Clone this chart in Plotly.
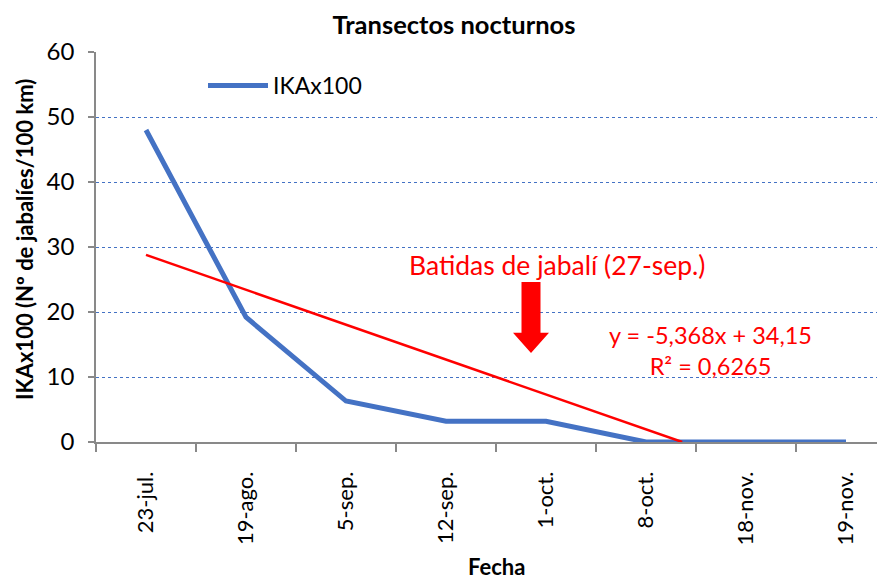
import plotly.graph_objects as go

# ---- data ----
fechas = ["23-jul.", "19-ago.", "5-sep.", "12-sep.", "1-oct.", "8-oct.", "18-nov.", "19-nov."]
ika = [48, 19.2, 6.3, 3.2, 3.2, 0, 0, 0]
trend_slope = -5.368
trend_intercept = 34.15
trend_r2 = 0.6265
y_ticks = [0, 10, 20, 30, 40, 50, 60]

FONT = "Lato"
BLUE = "#4472C4"
RED = "#FF0000"
GREY = "#898989"

idx = list(range(len(fechas)))

# Excel trendline: x is 1-based category number; stop where it meets y=0 (axis minimum)
x_end_1based = -trend_intercept / trend_slope
trend_x = [0, x_end_1based - 1]
trend_y = [trend_slope * (x + 1) + trend_intercept for x in trend_x]

# page body has an 8px margin -> figure drawn at (8,8)
W, H = 877, 572
PL, PT, PW, PH = 88, 44, 789, 390


def px(xa):  # absolute page x -> paper
    return (xa - 8 - PL) / PW


def py(ya):  # absolute page y -> paper
    return (PT + PH - (ya - 8)) / PH


fig = go.Figure()
fig.add_trace(go.Scatter(
    x=idx, y=ika, mode="lines", name="IKAx100",
    line=dict(color=BLUE, width=5), showlegend=True,
))
fig.add_trace(go.Scatter(
    x=trend_x, y=trend_y, mode="lines", name="Lineal (IKAx100)",
    line=dict(color=RED, width=2.5), showlegend=False,
))

fig.update_layout(
    width=W, height=H,
    margin=dict(l=PL, r=W - PL - PW, t=PT, b=H - PT - PH, autoexpand=False),
    paper_bgcolor="white", plot_bgcolor="white",
    font=dict(family=FONT, size=24, color="black"),
    title=dict(text="<b>Transectos nocturnos</b>", x=(454 - 8) / W, xanchor="center",
               xref="container", yref="container", y=1 - (25 - 8) / H, yanchor="middle",
               font=dict(family=FONT, size=25.5, color="black")),
    legend=dict(x=px(203), y=py(64), xanchor="left", yanchor="top",
                bgcolor="rgba(0,0,0,0)", font=dict(size=23), itemwidth=60),
    xaxis=dict(
        range=[-0.5, 7.39], tickmode="array", tickvals=idx, ticktext=fechas,
        tickangle=-90, ticks="", showgrid=False, zeroline=False,
        showline=True, linecolor=GREY, linewidth=1.5,
        tickfont=dict(size=22), ticklabelstandoff=19,
        minor=dict(tickvals=[i - 0.5 for i in range(len(fechas) + 1)],
                   ticks="outside", ticklen=8, tickcolor=GREY, tickwidth=1.5,
                   showgrid=False),
    ),
    yaxis=dict(
        range=[0, 60], tickmode="array", tickvals=y_ticks,
        ticks="outside", ticklen=6, tickcolor=GREY, tickwidth=1.5,
        showline=True, linecolor=GREY, linewidth=1.5, zeroline=False,
        showgrid=True, gridcolor=BLUE, griddash="dot", gridwidth=1,
        tickfont=dict(size=24), ticklabelstandoff=9,
    ),
)

# axis titles
fig.add_annotation(text="<b>IKAx100 (Nº de jabalíes/100 km)</b>", xref="paper", yref="paper",
                   x=px(25), y=py(240), textangle=-90, showarrow=False,
                   font=dict(size=22), xanchor="center", yanchor="middle")
fig.add_annotation(text="<b>Fecha</b>", xref="paper", yref="paper",
                   x=px(496), y=py(566), showarrow=False,
                   font=dict(size=22), xanchor="center", yanchor="middle")

# event annotation
fig.add_annotation(text="Batidas de jabalí (27-sep.)", xref="paper", yref="paper",
                   x=px(557), y=py(265), showarrow=False,
                   font=dict(size=26.5, color=RED), xanchor="center", yanchor="middle")

# block arrow (decoration)
ax_c = 3.85
shaft_hw, head_hw = 0.095, 0.18
y_top, y_neck, y_tip = 24.6, 16.8, 13.7
path = (f"M {ax_c - shaft_hw},{y_top} L {ax_c + shaft_hw},{y_top} L {ax_c + shaft_hw},{y_neck} "
        f"L {ax_c + head_hw},{y_neck} L {ax_c},{y_tip} L {ax_c - head_hw},{y_neck} "
        f"L {ax_c - shaft_hw},{y_neck} Z")
fig.add_shape(type="path", path=path, xref="x", yref="y",
              fillcolor=RED, line=dict(color=RED, width=0))


# trendline equation
def fmt(v, nd):
    return f"{v:.{nd}f}".replace(".", ",")


eq = f"y = {fmt(trend_slope, 3)}x + {fmt(trend_intercept, 2)}<br>R² = {fmt(trend_r2, 4)}"
fig.add_annotation(text=eq, xref="paper", yref="paper",
                   x=px(710), y=py(350), showarrow=False, align="center",
                   font=dict(size=23.5, color=RED), xanchor="center", yanchor="middle")

fig.write_html("out.html")
